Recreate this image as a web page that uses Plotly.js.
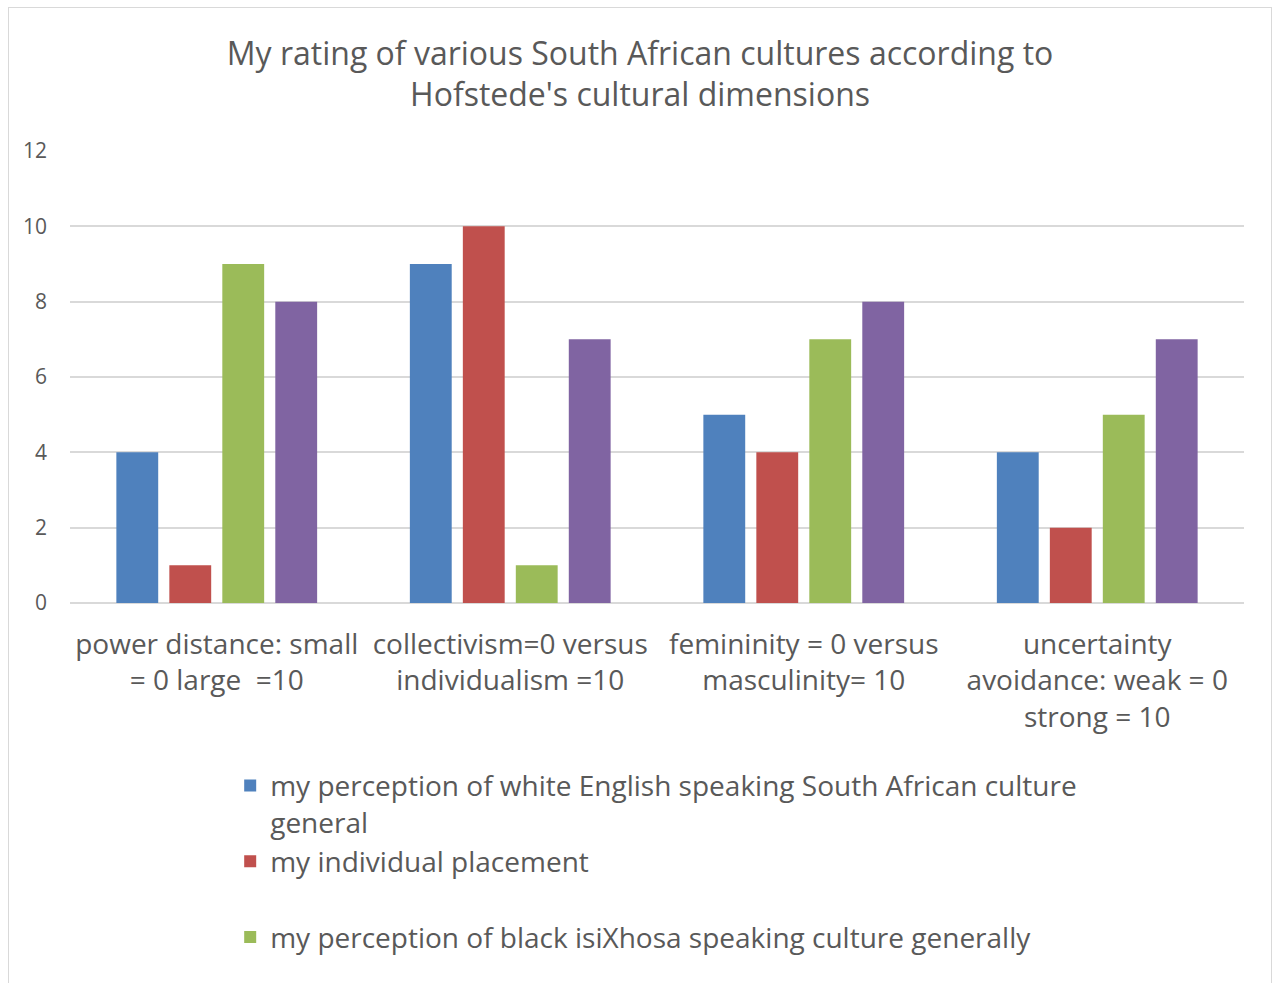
<!DOCTYPE html>
<html>
<head>
<meta charset="utf-8">
<script src="https://cdn.plot.ly/plotly-3.0.1.min.js"></script>
<style>
html,body{margin:0;padding:0;background:#fff;overflow:hidden;}
#wrap{position:relative;width:1276px;height:983px;}
#chart{width:1276px;height:983px;}
#frame{position:absolute;left:8px;top:7px;width:1264px;height:1000px;border:1.5px solid #d9d9d9;pointer-events:none;box-sizing:border-box;}
</style>
</head>
<body>
<div id="wrap"><div id="chart"></div><div id="frame"></div></div>
<script>
const categories = [
  "power distance: small<br>= 0 large  =10",
  "collectivism=0 versus<br>individualism =10",
  "femininity = 0 versus<br>masculinity= 10",
  "uncertainty<br>avoidance: weak = 0<br>strong = 10"
];
const seriesNames = [
  "my perception of white English speaking South African culture<br>general",
  "my individual placement<br> ",
  "my perception of black isiXhosa speaking culture generally",
  "my perception of other culture"
];
const whiteEnglish = [4, 9, 5, 4];
const individual = [1, 10, 4, 2];
const blackXhosa = [9, 1, 7, 5];
const fourth = [8, 7, 8, 7];
const yTicks = [0, 2, 4, 6, 8, 10, 12];

const colors = ["#4F81BD", "#C0504D", "#9BBB59", "#8064A2"];
const allValues = [whiteEnglish, individual, blackXhosa, fourth];

const traces = allValues.map((vals, i) => ({
  type: "bar",
  name: seriesNames[i],
  x: categories,
  y: vals,
  marker: {color: colors[i]},
  showlegend: i < 3,
  hoverinfo: "x+y+name"
}));

const font = "'Open Sans', 'Noto Sans', sans-serif";
const grey = "#595959";

const layout = {
  width: 1276,
  height: 983,
  paper_bgcolor: "#ffffff",
  plot_bgcolor: "#ffffff",
  margin: {l: 70, r: 32, t: 151, b: 380, autoexpand: false},
  font: {family: font, color: grey},
  title: {
    text: "My rating of various South African cultures according to<br>Hofstede's cultural dimensions",
    font: {size: 32, color: grey, family: font},
    xref: "container", x: 0.5016, xanchor: "center",
    yref: "container", y: 0.934, yanchor: "top"
  },
  barmode: "group",
  bargap: 0.278,
  bargroupgap: 0.21,
  xaxis: {
    type: "category",
    tickfont: {size: 28, color: grey, family: font},
    tickangle: 0,
    showline: false,
    ticks: "",
    ticklabelstandoff: 22,
    showgrid: false
  },
  yaxis: {
    range: [0, 12],
    tickvals: yTicks,
    tickfont: {size: 21, color: grey, family: font},
    showgrid: true,
    gridcolor: "#d9d9d9",
    gridwidth: 1.5,
    zeroline: true,
    zerolinecolor: "#d9d9d9",
    zerolinewidth: 1.5,
    showline: false,
    ticks: "",
    ticklabelstandoff: 22
  },
  showlegend: true,
  legend: {
    xref: "container", yref: "container",
    x: 0.1804, xanchor: "left",
    y: 0.2261, yanchor: "top",
    font: {size: 28, color: grey, family: font},
    valign: "top",
    bgcolor: "rgba(0,0,0,0)",
    traceorder: "normal"
  }
};

Plotly.newPlot("chart", traces, layout, {displayModeBar: false, staticPlot: false});
</script>
</body>
</html>
